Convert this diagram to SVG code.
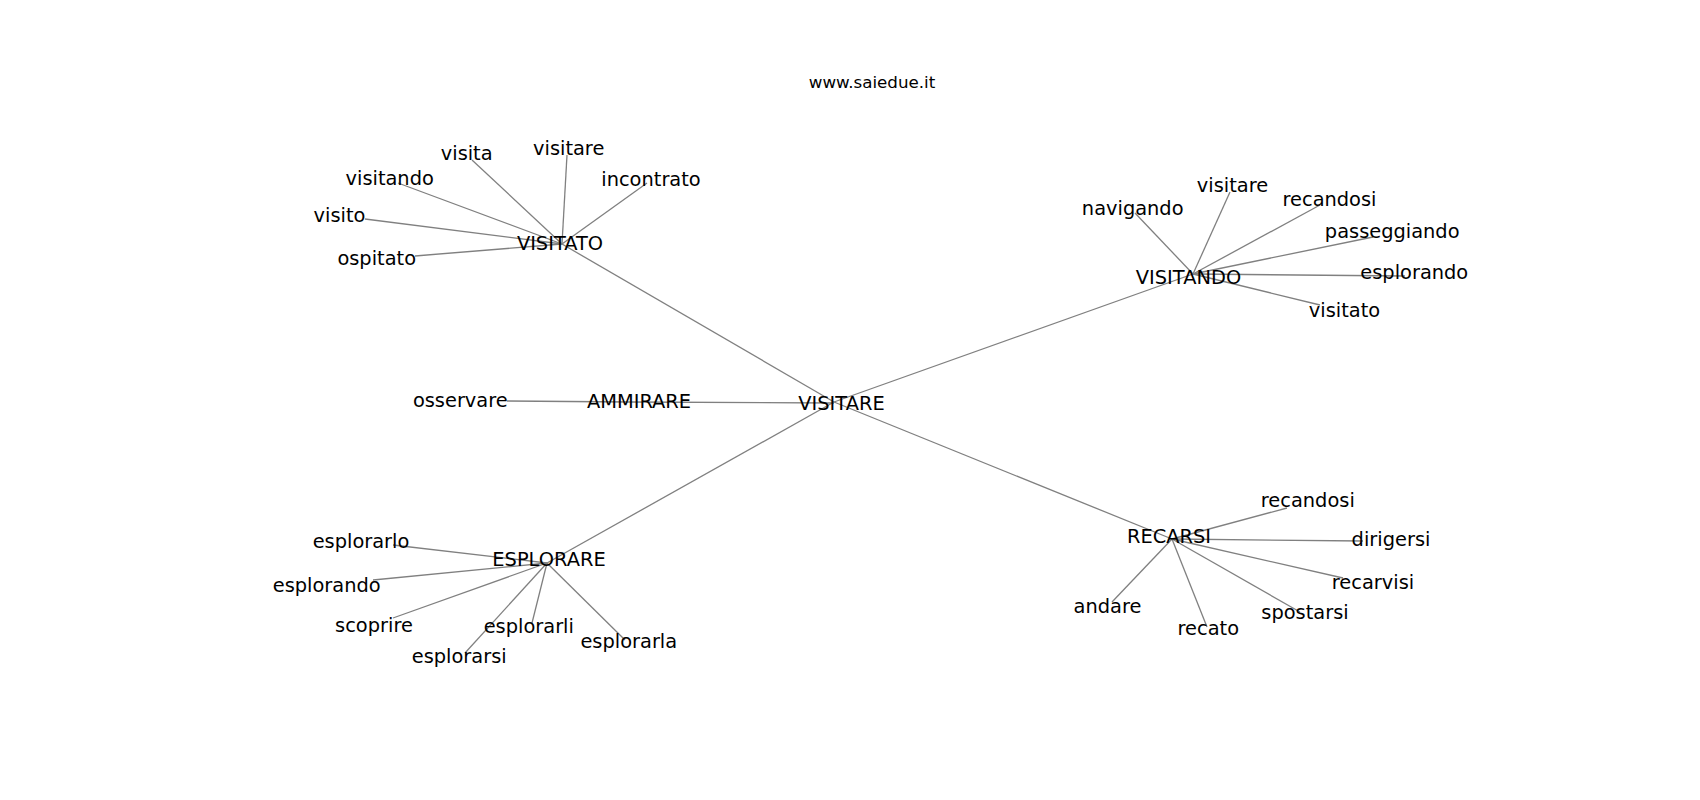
<svg xmlns="http://www.w3.org/2000/svg" width="1700" height="800" viewBox="0 0 1700 800">
<style>
.e{stroke:#808080;stroke-width:1.3;fill:none}
text{font-family:"DejaVu Sans","Liberation Sans",sans-serif;font-size:19.4px;fill:#000;text-anchor:middle}
.t{font-size:16.7px}
</style>
<rect width="1700" height="800" fill="#fff"/>
<g id="connectors">
<line class="e" x1="834" y1="402" x2="562" y2="244"/>
<line class="e" x1="834" y1="402" x2="1193" y2="274"/>
<line class="e" x1="834" y1="403" x2="630" y2="402"/>
<line class="e" x1="630" y1="402" x2="507" y2="401"/>
<line class="e" x1="834" y1="402" x2="547" y2="563"/>
<line class="e" x1="834" y1="402" x2="1172" y2="539"/>
<line class="e" x1="562" y1="244" x2="472" y2="160"/>
<line class="e" x1="562" y1="244" x2="567" y2="155"/>
<line class="e" x1="562" y1="244" x2="647" y2="183"/>
<line class="e" x1="562" y1="244" x2="398" y2="183"/>
<line class="e" x1="562" y1="244" x2="365" y2="219"/>
<line class="e" x1="562" y1="244" x2="415" y2="256"/>
<line class="e" x1="1193" y1="274" x2="1135" y2="213"/>
<line class="e" x1="1193" y1="274" x2="1230" y2="192"/>
<line class="e" x1="1193" y1="274" x2="1320" y2="205"/>
<line class="e" x1="1193" y1="274" x2="1373" y2="237"/>
<line class="e" x1="1193" y1="274" x2="1405" y2="276"/>
<line class="e" x1="1193" y1="274" x2="1320" y2="305"/>
<line class="e" x1="547" y1="563" x2="393" y2="545"/>
<line class="e" x1="547" y1="563" x2="373" y2="580"/>
<line class="e" x1="547" y1="563" x2="393" y2="618"/>
<line class="e" x1="547" y1="563" x2="532" y2="623"/>
<line class="e" x1="547" y1="563" x2="625" y2="640"/>
<line class="e" x1="547" y1="563" x2="465" y2="653"/>
<line class="e" x1="1172" y1="539" x2="1287" y2="508"/>
<line class="e" x1="1172" y1="539" x2="1363" y2="541"/>
<line class="e" x1="1172" y1="539" x2="1343" y2="578"/>
<line class="e" x1="1172" y1="539" x2="1300" y2="612"/>
<line class="e" x1="1172" y1="539" x2="1207" y2="627"/>
<line class="e" x1="1172" y1="539" x2="1112" y2="602"/>
</g>
<text class="t" x="872" y="87.5">www.saiedue.it</text>
<g id="n-visitare-hub"><text x="841.5" y="410">VISITARE</text></g>
<g id="n-visitato"><text x="560" y="250">VISITATO</text></g>
<g id="n-visitato-visita"><text x="466.7" y="160">visita</text></g>
<g id="n-visitato-visitare"><text x="568.7" y="155">visitare</text></g>
<g id="n-visitato-incontrato"><text x="651" y="186">incontrato</text></g>
<g id="n-visitato-visitando"><text x="389.7" y="185">visitando</text></g>
<g id="n-visitato-visito"><text x="339.5" y="222">visito</text></g>
<g id="n-visitato-ospitato"><text x="376.7" y="265">ospitato</text></g>
<g id="n-visitando"><text x="1188.5" y="284">VISITANDO</text></g>
<g id="n-visitando-navigando"><text x="1132.7" y="215">navigando</text></g>
<g id="n-visitando-visitare"><text x="1232.5" y="192">visitare</text></g>
<g id="n-visitando-recandosi"><text x="1329.5" y="205.5">recandosi</text></g>
<g id="n-visitando-passeggiando"><text x="1392.2" y="237.5">passeggiando</text></g>
<g id="n-visitando-esplorando"><text x="1414.3" y="278.5">esplorando</text></g>
<g id="n-visitando-visitato"><text x="1344.5" y="316.5">visitato</text></g>
<g id="n-ammirare"><text x="639" y="407.5">AMMIRARE</text></g>
<g id="n-ammirare-osservare"><text x="460.3" y="407">osservare</text></g>
<g id="n-esplorare"><text x="549" y="566">ESPLORARE</text></g>
<g id="n-esplorare-esplorarlo"><text x="361" y="548">esplorarlo</text></g>
<g id="n-esplorare-esplorando"><text x="326.7" y="591.5">esplorando</text></g>
<g id="n-esplorare-scoprire"><text x="374" y="632">scoprire</text></g>
<g id="n-esplorare-esplorarli"><text x="528.8" y="632.5">esplorarli</text></g>
<g id="n-esplorare-esplorarla"><text x="628.8" y="648.3">esplorarla</text></g>
<g id="n-esplorare-esplorarsi"><text x="459.2" y="662.7">esplorarsi</text></g>
<g id="n-recarsi"><text x="1169" y="543.3">RECARSI</text></g>
<g id="n-recarsi-recandosi"><text x="1307.8" y="507.3">recandosi</text></g>
<g id="n-recarsi-dirigersi"><text x="1391" y="546">dirigersi</text></g>
<g id="n-recarsi-recarvisi"><text x="1373" y="589.3">recarvisi</text></g>
<g id="n-recarsi-andare"><text x="1107.5" y="613.3">andare</text></g>
<g id="n-recarsi-recato"><text x="1208.3" y="635">recato</text></g>
<g id="n-recarsi-spostarsi"><text x="1305" y="619">spostarsi</text></g>
</svg>
